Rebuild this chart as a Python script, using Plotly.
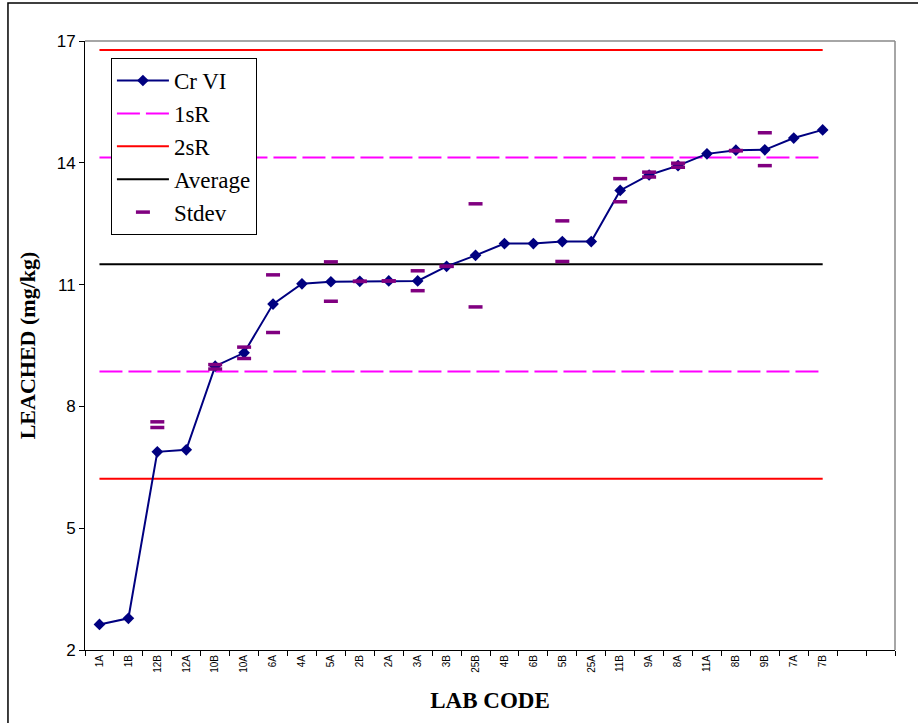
import plotly.graph_objects as go

# ---------------- data ----------------
lab_codes = ["1A", "1B", "12B", "12A", "10B", "10A", "6A", "4A", "5A", "2B", "2A", "3A", "3B",
             "25B", "4B", "6B", "5B", "25A", "11B", "9A", "8A", "11A", "8B", "9B", "7A", "7B"]
cr_vi = [2.63, 2.78, 6.88, 6.93, 8.99, 9.32, 10.52, 11.02, 11.07, 11.08, 11.09, 11.09, 11.45,
         11.72, 12.01, 12.01, 12.06, 12.06, 13.32, 13.70, 13.93, 14.22, 14.31, 14.32, 14.61, 14.81]
stdev_hi = [None, None, 7.62, None, 9.03, 9.46, 11.24, None, 11.56, 11.08, 11.09, 11.34, 11.45,
            12.99, None, None, 12.57, None, 13.61, 13.77, 13.99, None, 14.30, 14.74, None, None]
stdev_lo = [None, None, 7.48, None, 8.92, 9.18, 9.82, None, 10.59, 11.08, 11.09, 10.85, 11.45,
            10.45, None, None, 11.57, None, 13.04, 13.65, 13.89, None, 14.30, 13.93, None, None]
average = 11.50
sr1_upper, sr1_lower = 14.13, 8.86
sr2_upper, sr2_lower = 16.78, 6.22
empty_slots = 2          # blank categories after the last lab code
y_ticks = [2, 5, 8, 11, 14, 17]

# ---------------- figure ----------------
idx = list(range(len(lab_codes)))
n_total = len(lab_codes) + empty_slots

NAVY = "#000080"
PURPLE = "#800080"
MAGENTA = "#FF00FF"
RED = "#FF0000"

fig = go.Figure()

def hline(value, name, color, dash, show, rank, group):
    fig.add_trace(go.Scatter(
        x=idx, y=[value] * len(idx), mode="lines", name=name,
        line=dict(color=color, width=2, dash=dash),
        showlegend=show, legendgroup=group, legendrank=rank, hoverinfo="skip"))

hline(sr1_upper, "1sR", MAGENTA, "23px,6px", True, 2, "g2")
hline(sr1_lower, "1sR", MAGENTA, "23px,6px", False, 2, "g2")
hline(sr2_upper, "2sR", RED, "solid", True, 3, "g3")
hline(sr2_lower, "2sR", RED, "solid", False, 3, "g3")
hline(average, "Average", "black", "solid", True, 4, "g4")

fig.add_trace(go.Scatter(
    x=idx, y=cr_vi, mode="lines+markers", name="Cr VI",
    line=dict(color=NAVY, width=2),
    marker=dict(symbol="diamond", size=9, color=NAVY),
    legendrank=1, legendgroup="g1"))

fig.add_trace(go.Scatter(
    x=idx + idx, y=stdev_hi + stdev_lo, mode="markers", name="Stdev",
    marker=dict(symbol="line-ew", size=10, line=dict(color=PURPLE, width=3.5), color=PURPLE),
    legendrank=5, legendgroup="g5"))

serif = "Liberation Serif, Times New Roman, serif"
sans = "Liberation Sans, Arial, sans-serif"

fig.update_layout(
    width=918, height=723,
    margin=dict(l=85, r=23, t=41, b=73),
    paper_bgcolor="white", plot_bgcolor="white",
    showlegend=True,
    legend=dict(
        x=0.032, y=0.972, xanchor="left", yanchor="top",
        bordercolor="black", borderwidth=1, bgcolor="white",
        font=dict(family=serif, size=23, color="black"),
        tracegroupgap=3, itemwidth=52, traceorder="normal"),
    xaxis=dict(
        range=[-0.5, n_total - 0.5],
        tickmode="array", tickvals=idx, ticktext=lab_codes,
        tickangle=-90, ticks="",
        tickfont=dict(family=sans, size=10, color="black"),
        showgrid=False, zeroline=False,
        showline=True, linecolor="black", linewidth=1,
        minor=dict(tickmode="linear", tick0=-0.5, dtick=1, ticks="outside",
                   ticklen=5, tickcolor="black", tickwidth=1, showgrid=False),
        title=dict(text="<b>LAB CODE</b>", font=dict(family=serif, size=23, color="black"),
                   standoff=20),
    ),
    yaxis=dict(
        range=[2, 17], tickmode="array", tickvals=y_ticks,
        ticks="outside", ticklen=5, tickcolor="black",
        tickfont=dict(family=sans, size=17, color="black"),
        showgrid=False, zeroline=False,
        showline=True, linecolor="black", linewidth=1,
        title=dict(text="<b>LEACHED (mg/kg)</b>", font=dict(family=serif, size=22, color="black"),
                   standoff=14),
    ),
    shapes=[
        # plot-area border (top / right in grey)
        dict(type="line", xref="paper", yref="paper", x0=0, x1=1, y0=1, y1=1,
             line=dict(color="#888888", width=1.5)),
        dict(type="line", xref="paper", yref="paper", x0=1, x1=1, y0=0, y1=1,
             line=dict(color="#888888", width=1.5)),
        # outer chart frame
        dict(type="rect", xref="paper", yref="paper", x0=-0.0951, x1=1.2, y0=-0.3, y1=1.0623,
             line=dict(color="black", width=1.5), fillcolor="rgba(0,0,0,0)", layer="below"),
    ],
)

fig.write_html("out.html", config={"displayModeBar": False},
               post_script="document.body.style.margin='0';document.body.style.overflow='hidden';")
